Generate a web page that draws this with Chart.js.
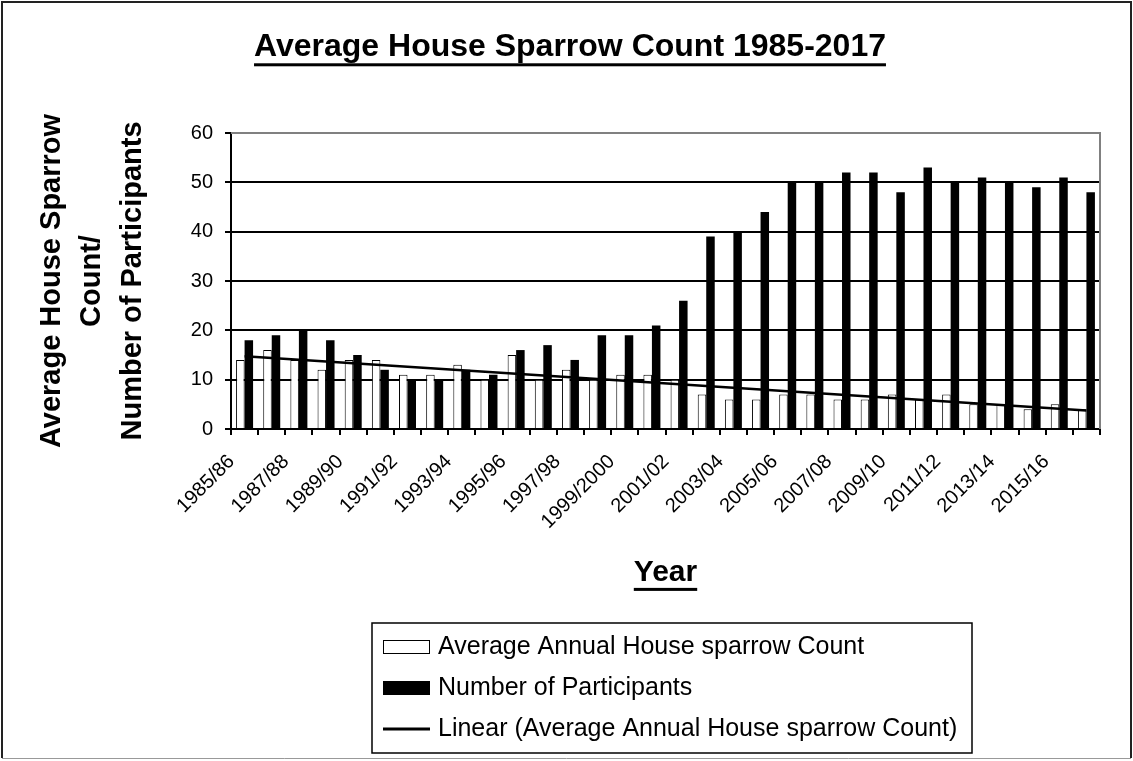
<!DOCTYPE html>
<html>
<head>
<meta charset="utf-8">
<script src="https://cdn.jsdelivr.net/npm/chart.js@4.4.1/dist/chart.umd.min.js"></script>
<style>
  html, body { margin: 0; padding: 0; background: #fff; }
  canvas { display: block; }
</style>
</head>
<body>
<canvas id="c" width="1133" height="761"></canvas>
<script>
// ---- Data ----
const years = ['1985/86','1986/87','1987/88','1988/89','1989/90','1990/91','1991/92','1992/93',
  '1993/94','1994/95','1995/96','1996/97','1997/98','1998/99','1999/2000','2000/01','2001/02',
  '2002/03','2003/04','2004/05','2005/06','2006/07','2007/08','2008/09','2009/10','2010/11',
  '2011/12','2012/13','2013/14','2014/15','2015/16','2016/17'];
const avgCount = [14,16,14,12,14,14,11,11,13,10,15,10,12,10,11,11,10,7,6,6,7,7,6,6,7,6,7,5,5,4,5,4];
const participants = [18,19,20,18,15,12,10,10,12,11,16,17,14,19,19,21,26,39,40,44,50,50,52,52,48,53,50,51,50,49,51,48];
const yTicks = [0,10,20,30,40,50,60];
const titleText = 'Average House Sparrow Count 1985-2017';
const yTitle = ['Average House Sparrow','Count/','Number of Participants'];
const xTitle = 'Year';
const seriesNames = ['Average Annual House sparrow Count','Number of Participants','Linear (Average Annual House sparrow Count)'];

// Linear trendline (least squares fit of the average count series, as Excel's "Linear" trendline)
function linearFit(vals) {
  const n = vals.length;
  let sx = 0, sy = 0, sxy = 0, sxx = 0;
  vals.forEach((v, i) => { const x = i + 1; sx += x; sy += v; sxy += x * v; sxx += x * x; });
  const b = (n * sxy - sx * sy) / (n * sxx - sx * sx);
  const a = (sy - b * sx) / n;
  return vals.map((v, i) => a + b * (i + 1));
}
const trend = linearFit(avgCount);

const FONT = "'Liberation Sans', Arial, sans-serif";
const TITLE_SIZE = 32, TITLE_PT = 28, TITLE_LH = 1.2;
const XT_SIZE = 30, XT_PB = 170.5, XT_LH = 1.2;
const PAD_LEFT = 40, PAD_RIGHT = 33;

const bgPlugin = {
  id: 'bg',
  beforeDraw(chart) {
    const ctx = chart.ctx;
    ctx.save();
    ctx.fillStyle = '#fff';
    ctx.fillRect(0, 0, chart.width, chart.height);
    ctx.restore();
  },
  beforeDatasetsDraw(chart) {
    const { ctx, chartArea: ca } = chart;
    ctx.save();
    ctx.strokeStyle = '#808080';
    ctx.lineWidth = 2;
    ctx.beginPath();
    ctx.moveTo(ca.left, ca.top);
    ctx.lineTo(ca.right, ca.top);
    ctx.lineTo(ca.right, ca.bottom);
    ctx.stroke();
    ctx.restore();
  }
};

const decoPlugin = {
  id: 'deco',
  afterDraw(chart) {
    const ctx = chart.ctx;
    ctx.save();
    ctx.fillStyle = '#000';
    // title underline
    const tb = chart.titleBlock;
    ctx.font = `bold ${TITLE_SIZE}px ${FONT}`;
    let w = ctx.measureText(titleText).width;
    let cx = (tb.left + tb.right) / 2;
    let mid = tb.top + TITLE_PT + TITLE_SIZE * TITLE_LH / 2;
    let base = mid + 0.3465 * TITLE_SIZE;
    ctx.fillRect(cx - w / 2, base + 5, w, 3);
    // x-axis title underline
    const xs = chart.scales.x;
    ctx.font = `bold ${XT_SIZE}px ${FONT}`;
    w = ctx.measureText(xTitle).width;
    cx = (xs.left + xs.right) / 2;
    mid = xs.bottom - XT_PB - XT_SIZE * XT_LH / 2;
    base = mid + 0.3465 * XT_SIZE;
    ctx.fillRect(cx - w / 2, base + 5, w, 3);

    // legend box
    const box = { x: 372, y: 623, w: 600, h: 130 };
    ctx.strokeStyle = '#000';
    ctx.lineWidth = 1.5;
    ctx.strokeRect(box.x, box.y, box.w, box.h);
    const rows = [647, 688, 729];
    ctx.font = `25px ${FONT}`;
    ctx.textBaseline = 'middle';
    ctx.textAlign = 'left';
    chart.data.datasets.forEach((ds, i) => {
      const y = rows[i];
      if (ds.type === 'line') {
        ctx.strokeStyle = ds.borderColor;
        ctx.lineWidth = 3;
        ctx.beginPath();
        ctx.moveTo(383, y);
        ctx.lineTo(430, y);
        ctx.stroke();
      } else {
        ctx.fillStyle = ds.backgroundColor;
        ctx.fillRect(383, y - 7, 47, 14);
        ctx.strokeStyle = '#000';
        ctx.lineWidth = 1;
        ctx.strokeRect(383.5, y - 6.5, 46, 13);
      }
      ctx.fillStyle = '#000';
      ctx.fillText(ds.label, 438, y);
    });

    // chart outer border
    ctx.strokeStyle = '#222';
    ctx.lineWidth = 2;
    ctx.beginPath();
    ctx.moveTo(2, 758);
    ctx.lineTo(2, 2);
    ctx.lineTo(1131, 2);
    ctx.lineTo(1131, 758);
    ctx.stroke();
    ctx.strokeStyle = '#999';
    ctx.lineWidth = 1;
    ctx.beginPath();
    ctx.moveTo(2, 758.5);
    ctx.lineTo(1131, 758.5);
    ctx.stroke();
    ctx.restore();
  }
};

new Chart(document.getElementById('c').getContext('2d'), {
  type: 'bar',
  data: {
    labels: years,
    datasets: [
      { label: seriesNames[0], data: avgCount, backgroundColor: '#ffffff', borderColor: '#000', borderWidth: 1, order: 1 },
      { label: seriesNames[1], data: participants, backgroundColor: '#000000', borderColor: '#000', borderWidth: 0, order: 1 },
      { type: 'line', label: seriesNames[2], data: trend, borderColor: '#000', borderWidth: 2.5,
        pointRadius: 0, fill: false, tension: 0, order: 0 }
    ]
  },
  options: {
    responsive: false,
    animation: false,
    devicePixelRatio: 1,
    layout: { padding: { left: PAD_LEFT, right: PAD_RIGHT, top: 0, bottom: 0 } },
    datasets: { bar: { categoryPercentage: 0.626, barPercentage: 1 } },
    plugins: {
      legend: { display: false },
      tooltip: { enabled: false },
      title: {
        display: true, text: titleText, color: '#000',
        font: { family: FONT, size: TITLE_SIZE, weight: 'bold', lineHeight: TITLE_LH },
        padding: { top: TITLE_PT, bottom: 133 - TITLE_PT - TITLE_SIZE * TITLE_LH }
      }
    },
    scales: {
      x: {
        offset: true,
        grid: { offset: true, drawOnChartArea: false, drawTicks: true, tickLength: 6, color: '#000', lineWidth: 2 },
        border: { color: '#000', width: 2 },
        ticks: {
          autoSkip: false, minRotation: 45, maxRotation: 45, labelOffset: -13, padding: 15,
          color: '#000', font: { family: FONT, size: 20 },
          callback: (v, i) => (i % 2 === 0 ? years[i] : '')
        },
        title: {
          display: true, text: xTitle, color: '#000',
          font: { family: FONT, size: XT_SIZE, weight: 'bold', lineHeight: XT_LH },
          padding: { top: 0, bottom: XT_PB }
        },
        afterFit: s => { s.height = 332; }
      },
      y: {
        min: 0, max: 60,
        afterBuildTicks: s => { s.ticks = yTicks.map(v => ({ value: v })); },
        ticks: { padding: 12, color: '#000', font: { family: FONT, size: 20 } },
        grid: {
          color: c => (c.tick && c.tick.value === 60 ? '#808080' : '#000'),
          tickColor: '#000', lineWidth: 2, tickLength: 6
        },
        border: { color: '#000', width: 2 },
        title: {
          display: true, text: yTitle, color: '#000',
          font: { family: FONT, size: 29, weight: 'bold', lineHeight: '40.5px' },
          padding: { top: 51.5 - PAD_LEFT - 20.25, bottom: 0 }
        },
        afterFit: s => { s.width = 231 - PAD_LEFT; }
      }
    }
  },
  plugins: [bgPlugin, decoPlugin]
});
</script>
</body>
</html>
